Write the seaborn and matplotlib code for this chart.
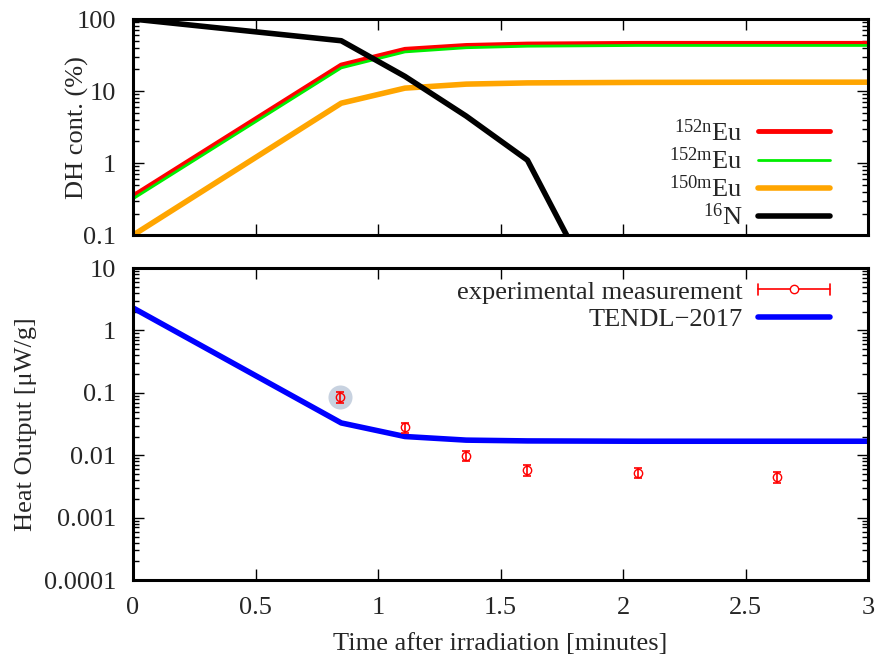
import numpy as np
import pandas as pd
import matplotlib
matplotlib.use("Agg")
import matplotlib.pyplot as plt
import seaborn as sns
from matplotlib.lines import Line2D
from matplotlib.legend_handler import HandlerBase
from matplotlib.ticker import LogLocator, NullFormatter

# time grid [minutes]
time = [0.0, 0.85, 1.11, 1.36, 1.61, 2.06, 2.63, 3.0]
eu152n = [0.35, 23.0, 38.0, 43.0, 45.0, 46.0, 46.0, 46.0]
eu152m = [0.32, 21.0, 35.0, 40.0, 42.0, 43.0, 43.0, 43.0]
eu150m = [0.10, 6.8, 11.0, 12.5, 13.0, 13.2, 13.3, 13.3]
n16 = [100.0, 50.0, 16.0, 4.5, 1.1, 0.0013, 0.0000003, 0.00000001]

tendl = [2.3, 0.033, 0.020, 0.0175, 0.017, 0.0168, 0.0168, 0.0168]

exp_t = [0.845, 1.11, 1.36, 1.61, 2.06, 2.63]
exp_val = [0.085, 0.028, 0.0098, 0.0058, 0.0053, 0.0045]
exp_err = [0.017, 0.005, 0.0018, 0.0011, 0.001, 0.0009]

sns.set_style("ticks")
plt.rcParams['font.family'] = ['Liberation Serif', 'DejaVu Serif']
plt.rcParams['mathtext.fontset'] = 'custom'
plt.rcParams['mathtext.rm'] = 'Liberation Serif'
plt.rcParams['mathtext.it'] = 'Liberation Serif:italic'
plt.rcParams['font.size'] = 19

fig = plt.figure(figsize=(8.75, 6.57), dpi=100)
ax1 = fig.add_axes([0.152, 0.642, 0.840, 0.329])
ax2 = fig.add_axes([0.152, 0.117, 0.840, 0.475])

df_top = pd.DataFrame({
    "t": time * 4,
    "val": eu152n + eu152m + eu150m + n16,
    "iso": ["152n"] * 8 + ["152m"] * 8 + ["150m"] * 8 + ["16N"] * 8,
})
colors = {"152n": "#ff0000", "152m": "#00ee00", "150m": "#ffa500", "16N": "#000000"}
widths = {"152n": 3.5, "152m": 2.0, "150m": 4.0, "16N": 4.0}
labels = {"152n": r"$^{\mathrm{152n}}$Eu", "152m": r"$^{\mathrm{152m}}$Eu",
          "150m": r"$^{\mathrm{150m}}$Eu", "16N": r"$^{\mathrm{16}}$N"}

handles = []
for iso in ["152n", "152m", "150m", "16N"]:
    sub = df_top[df_top.iso == iso]
    sns.lineplot(data=sub, x="t", y="val", ax=ax1, color=colors[iso],
                 lw=widths[iso], legend=False)
    handles.append(Line2D([], [], color=colors[iso], lw=widths[iso], label=labels[iso]))

ax1.set_yscale("log")
ax1.set_ylim(0.1, 100)
ax1.set_xlim(0, 3)
ax1.set_xticks([0, 0.5, 1, 1.5, 2, 2.5, 3])
ax1.set_xticklabels([])
ax1.set_yticks([0.1, 1, 10, 100])
ax1.set_yticklabels(["0.1", "1", "10", "100"])
ax1.set_xlabel("")
ax1.set_ylabel("DH cont. (%)", fontsize=19)
ax1.yaxis.set_label_coords(-0.060, 0.5)
ax1.legend(handles=handles, loc="lower right", markerfirst=False, frameon=False,
           fontsize=19, handlelength=2.7, handletextpad=0.6, labelspacing=0.06,
           borderaxespad=0.0, borderpad=0.2, bbox_to_anchor=(0.955, 0.0))

# bottom panel
ax2.scatter([exp_t[0]], [exp_val[0]], s=300, color="#c8d2e0", zorder=1, linewidths=0)
df_tendl = pd.DataFrame({"t": time, "val": tendl})
sns.lineplot(data=df_tendl, x="t", y="val", ax=ax2, color="#0000ff", lw=4, legend=False)
ax2.errorbar(exp_t, exp_val, yerr=exp_err, fmt="o", mfc="none", mec="red", ecolor="red",
             color="red", ms=6, capsize=3, elinewidth=1.2, capthick=1.2, zorder=3)


class ExpHandler(HandlerBase):
    def create_artists(self, legend, orig, xd, yd, width, height, fontsize, trans):
        y = yd + height / 2
        line = Line2D([xd, xd + width], [y, y], color="red", lw=1.2, transform=trans)
        c1 = Line2D([xd, xd], [y - 4, y + 4], color="red", lw=1.2, transform=trans)
        c2 = Line2D([xd + width, xd + width], [y - 4, y + 4], color="red", lw=1.2, transform=trans)
        m = Line2D([xd + width / 2], [y], marker="o", mfc="white", mec="red", ms=6,
                   ls="none", transform=trans)
        return [line, c1, c2, m]


h_exp = Line2D([], [], color="red", label="experimental measurement")
h_tendl = Line2D([], [], color="#0000ff", lw=4, label="TENDL\u22122017")
ax2.legend(handles=[h_exp, h_tendl], loc="upper right", markerfirst=False, frameon=False,
           fontsize=19, handlelength=2.7, handletextpad=0.6, labelspacing=0.15,
           borderaxespad=0.0, borderpad=0.2, bbox_to_anchor=(0.955, 0.978),
           handler_map={h_exp: ExpHandler()})

ax2.set_yscale("log")
ax2.set_ylim(0.0001, 10)
ax2.set_xlim(0, 3)
ax2.set_xticks([0, 0.5, 1, 1.5, 2, 2.5, 3])
ax2.set_xticklabels(["0", "0.5", "1", "1.5", "2", "2.5", "3"])
ax2.set_yticks([0.0001, 0.001, 0.01, 0.1, 1, 10])
ax2.set_yticklabels(["0.0001", "0.001", "0.01", "0.1", "1", "10"])
ax2.set_ylabel("Heat Output [\u03bcW/g]", fontsize=19)
ax2.yaxis.set_label_coords(-0.130, 0.5)
ax2.set_xlabel("Time after irradiation [minutes]", fontsize=19, labelpad=10)

for ax in (ax1, ax2):
    ax.yaxis.set_minor_locator(LogLocator(base=10, subs=np.arange(2, 10), numticks=20))
    ax.yaxis.set_minor_formatter(NullFormatter())
    for s in ax.spines.values():
        s.set_linewidth(2.2)
        s.set_color("black")
    ax.tick_params(which="both", direction="in", top=True, right=True, labelsize=19,
                   color="black")
    ax.tick_params(which="major", length=8, width=1)
    ax.tick_params(which="minor", length=4, width=1)
    ax.tick_params(axis="x", which="major", pad=12)
    ax.tick_params(axis="y", which="major", pad=12)

fig.savefig("out.png", dpi=100)
